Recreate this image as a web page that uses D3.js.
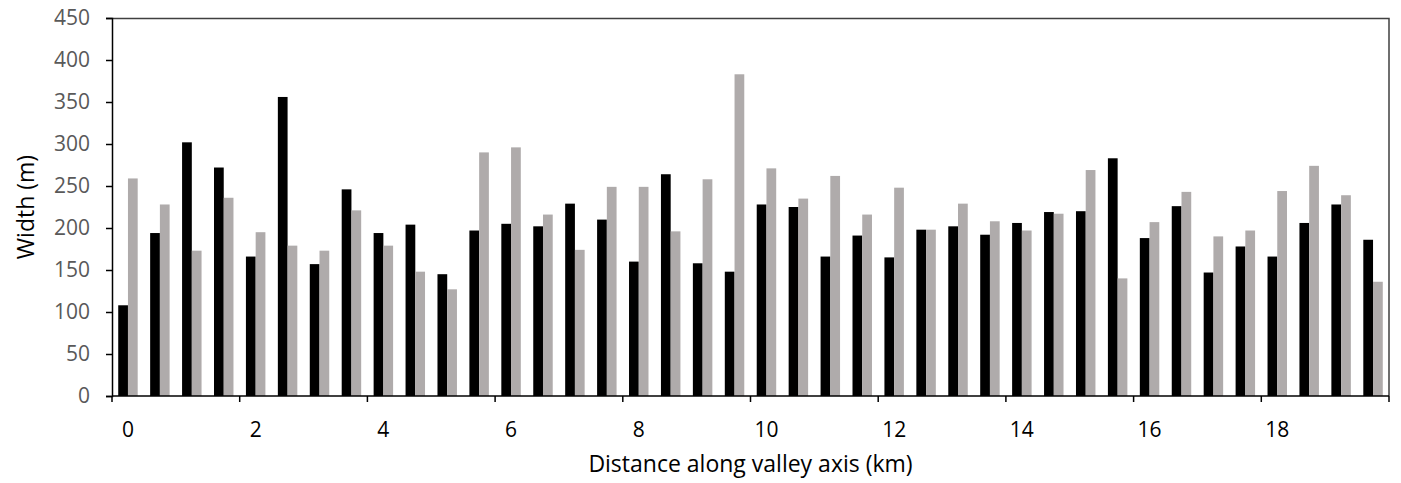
<!DOCTYPE html>
<html>
<head>
<meta charset="utf-8">
<script src="https://cdn.jsdelivr.net/npm/d3@7"></script>
<style>
  body { margin: 0; background: #fff; }
  text { font-family: "Open Sans", sans-serif; }
</style>
</head>
<body>
<script>
var width = 1401;
var height = 483;
var margin = { top: 18, right: 12, bottom: 87, left: 112 };

// distance along valley axis (km), every 0.5 km
var distances = d3.range(40).map(function(i) { return i / 2; });

// widths (m), black series
var seriesA = [108, 194, 302, 272, 166, 356, 157, 246, 194, 204,
               145, 197, 205, 202, 229, 210, 160, 264, 158, 148,
               228, 225, 166, 191, 165, 198, 202, 192, 206, 219,
               220, 283, 188, 226, 147, 178, 166, 206, 228, 186];

// widths (m), grey series
var seriesB = [259, 228, 173, 236, 195, 179, 173, 221, 179, 148,
               127, 290, 296, 216, 174, 249, 249, 196, 258, 383,
               271, 235, 262, 216, 248, 198, 229, 208, 197, 217,
               269, 140, 207, 243, 190, 197, 244, 274, 239, 136];

var yTicks = [0, 50, 100, 150, 200, 250, 300, 350, 400, 450];
var xLabels = [0, 2, 4, 6, 8, 10, 12, 14, 16, 18];

var innerW = width - margin.left - margin.right;
var innerH = height - margin.top - margin.bottom;

var svg = d3.select('body')
  .append('svg')
  .attr('width', width)
  .attr('height', height);

var g = svg.append('g')
  .attr('transform', 'translate(' + margin.left + ',' + margin.top + ')');

var pad = 0.39;
var xScale = d3.scaleBand()
  .domain(distances)
  .range([0, innerW])
  .paddingInner(pad)
  .paddingOuter(pad / 2);

var subScale = d3.scaleBand()
  .domain(['a', 'b'])
  .range([0, xScale.bandwidth()]);

var yScale = d3.scaleLinear()
  .domain([0, 450])
  .range([innerH, 0]);

var data = distances.map(function(d, i) {
  return { km: d, a: seriesA[i], b: seriesB[i] };
});

var colors = { a: '#000000', b: '#afabab' };

// bars
var groups = g.selectAll('g.grp')
  .data(data)
  .enter()
  .append('g')
  .attr('class', 'grp')
  .attr('transform', function(d) { return 'translate(' + xScale(d.km) + ',0)'; });

groups.selectAll('rect')
  .data(function(d) { return ['a', 'b'].map(function(k) { return { key: k, value: d[k] }; }); })
  .enter()
  .append('rect')
  .attr('x', function(d) { return subScale(d.key); })
  .attr('y', function(d) { return yScale(d.value); })
  .attr('width', subScale.bandwidth())
  .attr('height', function(d) { return innerH - yScale(d.value); })
  .attr('fill', function(d) { return colors[d.key]; });

// frame (top and right)
g.append('path')
  .attr('d', 'M0,0.5H' + innerW + 'V' + innerH)
  .attr('fill', 'none')
  .attr('stroke', '#404040')
  .attr('stroke-width', 1.5);

// y axis
var yAxis = d3.axisLeft(yScale).tickValues(yTicks).tickSize(6).tickPadding(16);
var yG = g.append('g').call(yAxis);
yG.select('.domain').attr('stroke', '#000').attr('stroke-width', 1.5);
yG.selectAll('.tick line').attr('stroke', '#000').attr('stroke-width', 1.5);
yG.selectAll('.tick text')
  .attr('fill', '#595959')
  .style('font-size', '21px');

// x axis: labels on every 4th category
var xAxis = d3.axisBottom(xScale)
  .tickValues(xLabels)
  .tickSize(0);
var xG = g.append('g')
  .attr('transform', 'translate(0,' + innerH + ')')
  .call(xAxis);
xG.select('.domain').remove();
xG.selectAll('.tick text')
  .attr('y', 41)
  .attr('dy', 0)
  .attr('fill', '#000')
  .style('font-size', '21px');

// x tick marks at category boundaries
var step = xScale.step();
var boundaries = xLabels.map(function(d) { return xScale(d) - step * pad / 2; }).concat([innerW]);
g.append('g')
  .selectAll('line')
  .data(boundaries)
  .enter()
  .append('line')
  .attr('x1', function(d) { return d; })
  .attr('x2', function(d) { return d; })
  .attr('y1', innerH)
  .attr('y2', innerH + 6)
  .attr('stroke', '#000')
  .attr('stroke-width', 1.5);

g.append('line')
  .attr('x1', 0)
  .attr('x2', innerW)
  .attr('y1', innerH)
  .attr('y2', innerH)
  .attr('stroke', '#000')
  .attr('stroke-width', 1.5);

// axis titles
svg.append('text')
  .attr('x', margin.left + innerW / 2)
  .attr('y', 472)
  .attr('text-anchor', 'middle')
  .style('font-size', '23px')
  .attr('fill', '#000')
  .text('Distance along valley axis (km)');

svg.append('text')
  .attr('transform', 'translate(34,' + (margin.top + innerH / 2) + ') rotate(-90)')
  .attr('text-anchor', 'middle')
  .style('font-size', '23px')
  .attr('fill', '#000')
  .text('Width (m)');
</script>
</body>
</html>
